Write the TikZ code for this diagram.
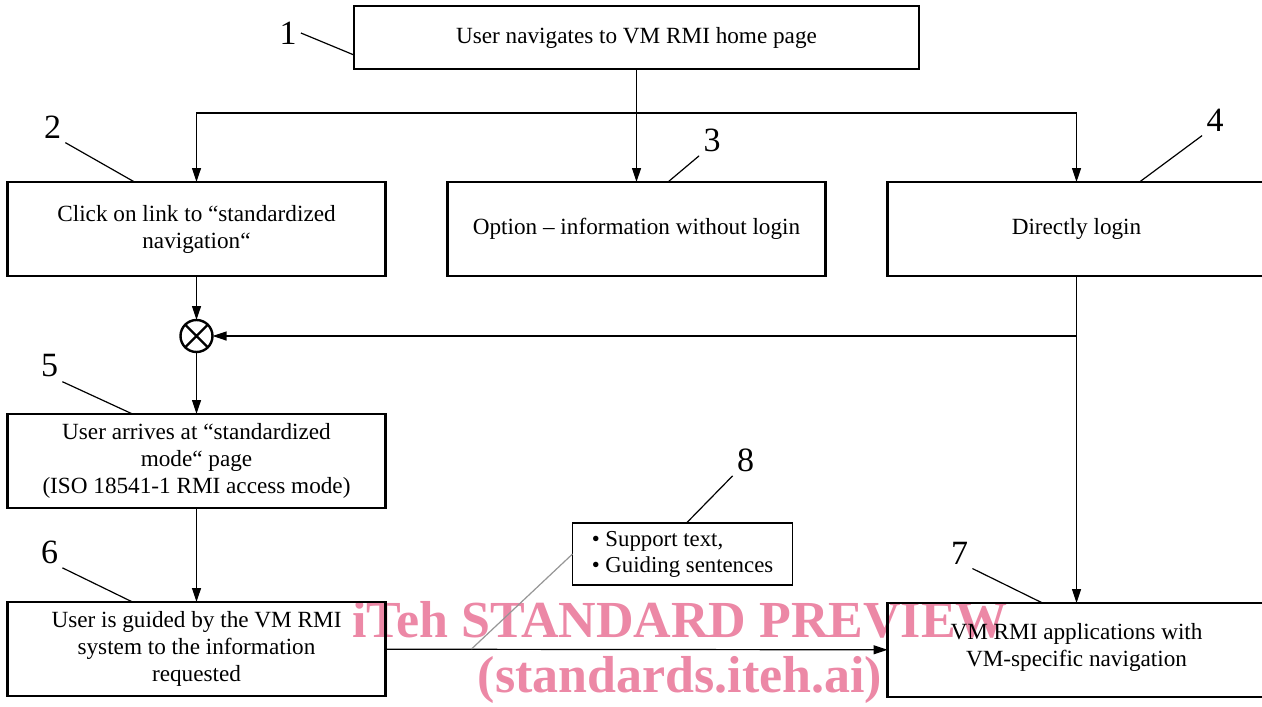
\documentclass[tikz,border=0pt]{standalone}
\usepackage{fontspec}
\setmainfont{Liberation Serif}
\usepackage{xcolor}
\usetikzlibrary{arrows.meta,positioning}
\definecolor{wmpink}{RGB}{236,136,166}
\definecolor{leadgray}{RGB}{150,150,150}

\begin{document}
\begin{tikzpicture}[
    box/.style={rectangle, draw, line width=1.3pt, outer sep=0pt, minimum width=189pt, minimum height=47pt, align=center, inner sep=2pt, font=\fontsize{11.6}{13.5}\selectfont},
    note/.style={rectangle, draw, line width=0.6pt, outer sep=0pt, minimum width=110pt, minimum height=30.5pt, align=left, inner sep=4pt, font=\fontsize{11.4}{13}\selectfont},
    num/.style={inner sep=2pt, font=\fontsize{17}{20}\selectfont},
    merge/.style={circle, draw, line width=1.2pt, outer sep=0pt, minimum size=16pt, inner sep=0pt,
        path picture={\draw[line width=1.2pt] (path picture bounding box.north west) -- (path picture bounding box.south east)
            (path picture bounding box.north east) -- (path picture bounding box.south west);}},
    arrow/.style={-{Triangle[length=7pt,width=4.5pt]}, line width=0.6pt},
    leader/.style={line width=0.6pt},
    wmark/.style={text=wmpink, align=center, font=\fontsize{26}{27.5}\selectfont\bfseries}
]
    \useasboundingbox (0pt,0pt) rectangle (631pt,-353pt);

    % Watermark
    \node[wmark] (preview) at (340pt,-326pt) {iTeh STANDARD PREVIEW\\(standards.iteh.ai)};

    % Top
    \node[box, minimum width=282.5pt, minimum height=31.5pt] (home) at (318.25pt,-18.75pt) {User navigates to VM RMI home page};

    % Entry options
    \node[box, below=56.5pt of home] (option) {Option -- information without login};
    \node[box, left=31pt of option] (click) {Click on link to “standardized\\navigation“};
    \node[box, right=31pt of option] (login) {Directly login};

    % Standardized path
    \node[merge, below=22pt of click] (merge) {};
    \node[box, below=31pt of merge] (mode) {User arrives at “standardized\\mode“ page\\(ISO 18541-1 RMI access mode)};
    \node[box, below=47pt of mode] (guided) {User is guided by the VM RMI\\system to the information\\requested};

    % VM specific
    \node[box, below=163.5pt of login, text depth=5pt] (apps) {VM RMI applications with\\VM-specific navigation};
    \node[note, above right=8.5pt and 93.5pt of guided] (support) {\textbullet\ Support text,\\\textbullet\ Guiding sentences};

    % Numbers
    \node[num] (n1) at ([xshift=-33pt,yshift=2.25pt]home.west) {1};
    \node[num] (n2) at ([xshift=22.5pt,yshift=27.5pt]click.north west) {2};
    \node[num] (n3) at ([xshift=132.25pt,yshift=21pt]option.north west) {3};
    \node[num] (n4) at ([xshift=163.75pt,yshift=31pt]login.north west) {4};
    \node[num] (n5) at ([xshift=21pt,yshift=24pt]mode.north west) {5};
    \node[num] (n6) at ([xshift=21pt,yshift=25pt]guided.north west) {6};
    \node[num] (n7) at ([xshift=36pt,yshift=25pt]apps.north west) {7};
    \node[num] (n8) at ([xshift=86.5pt,yshift=31.5pt]support.north west) {8};

    % Helper points
    \coordinate (split) at ([yshift=-22pt]home.south);
    \coordinate (tap) at ([xshift=43pt]guided.east);

    % Arrows
    \draw[line width=0.6pt] (home.south) -- (split);
    \draw[arrow] (split) -| (click.north);
    \draw[arrow] (split) -- (option.north);
    \draw[arrow] (split) -| (login.north);
    \draw[arrow] (click) -- (merge);
    \draw[arrow] (login.south |- merge) -- (merge);
    \draw[arrow] (merge) -- (mode);
    \draw[arrow] (mode) -- (guided);
    \draw[arrow] (login) -- (apps);
    \draw[arrow] (guided) -- (apps);

    % Leaders
    \draw[leader] (n1.east) -- ([yshift=-8.75pt]home.west);
    \draw[leader] (n2.south east) -- ([xshift=63.5pt]click.north west);
    \draw[leader] (n3.south west) -- ([xshift=110.25pt]option.north west);
    \draw[leader] (n4.south west) -- ([xshift=126pt]login.north west);
    \draw[leader] (n5.south east) -- ([xshift=62.5pt]mode.north west);
    \draw[leader] (n6.south east) -- ([xshift=62.5pt]guided.north west);
    \draw[leader] (n7.south east) -- ([xshift=77.5pt]apps.north west);
    \draw[leader] (n8.south west) -- ([xshift=57pt]support.north west);
    \draw[leader, leadgray] (support.west) -- (tap);
\end{tikzpicture}
\end{document}
